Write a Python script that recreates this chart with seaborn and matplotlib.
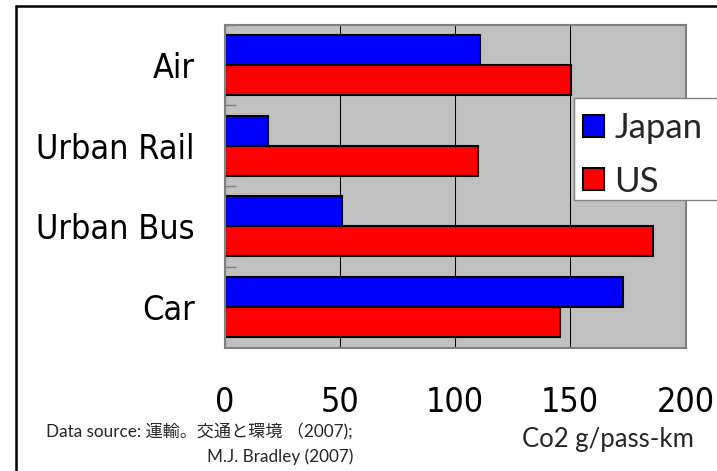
import matplotlib
matplotlib.use("Agg")
import matplotlib.pyplot as plt
import seaborn as sns
import pandas as pd
from matplotlib.lines import Line2D
from matplotlib.patches import Patch, Rectangle

# CO2 emissions per passenger-km by mode
modes = ["Air", "Urban Rail", "Urban Bus", "Car"]
countries = ["Japan", "US"]
japan = [111, 19, 51, 173]
us = [150.5, 110, 186, 145.5]
xticks = [0, 50, 100, 150, 200]
colors = {"Japan": "#0000FF", "US": "#FF0000"}

df = pd.DataFrame({
    "Mode": modes * 2,
    "Country": ["Japan"] * len(modes) + ["US"] * len(modes),
    "CO2": japan + us,
})

sns.set_theme(style="white")
plt.rcParams["font.family"] = ["DejaVu Sans"]

W, H = 717, 471
fig = plt.figure(figsize=(W / 100, H / 100), dpi=100)
ax = fig.add_axes([224.5 / W, 1 - 347.5 / H, 461 / W, 323 / H])

sns.barplot(data=df, y="Mode", x="CO2", hue="Country", order=modes,
            hue_order=countries, palette=colors, orient="h", width=0.745,
            edgecolor="black", linewidth=1.5, saturation=1, legend=False,
            ax=ax)

ax.set_facecolor("#C0C0C0")
ax.set_axisbelow(True)
ax.set_xlim(0, 200)
ax.set_ylim(3.5, -0.5)
ax.set_xticks(xticks)
ax.set_xticklabels([str(t) for t in xticks], fontsize=24.5,
                   fontstretch="condensed")
ax.set_yticks(range(len(modes)))
ax.set_yticklabels(modes, fontsize=24.5, fontstretch="condensed")
ax.xaxis.grid(True, color="black", linewidth=0.75)
ax.yaxis.grid(False)
ax.tick_params(axis="x", which="major", length=0, pad=28, colors="black")
ax.tick_params(axis="y", which="major", length=0, pad=21.6, colors="black")
ax.set_yticks([-0.5, 0.5, 1.5, 2.5], minor=True)
ax.tick_params(axis="y", which="minor", direction="in", length=8,
               width=1, color="#808080", left=True)
ax.set_xlabel("")
ax.set_ylabel("")
for sp in ax.spines.values():
    sp.set_visible(True)
    sp.set_color("#808080")
    sp.set_linewidth(1.5)

# legend box running off the right edge
fig.add_artist(Rectangle((574 / W, 1 - 199.5 / H), 160 / W, 102 / H,
                         transform=fig.transFigure, facecolor="white",
                         edgecolor="#808080", linewidth=1.0, zorder=4,
                         clip_on=False))
handles = [Patch(facecolor=colors[c], edgecolor="black", linewidth=1.5,
                 label=c) for c in countries]
leg = fig.legend(handles=handles, loc="upper left",
                 bbox_to_anchor=(568 / W, 1 - 97.5 / H),
                 bbox_transform=fig.transFigure, frameon=False,
                 prop={"family": "Lato", "size": 25},
                 handlelength=0.63, handleheight=0.6, handletextpad=0.29,
                 borderpad=0.42, labelspacing=0.62, borderaxespad=0)
leg.set_zorder(5)

fig.text(608 / W, 1 - 447 / H, "Co2 g/pass-km", ha="center", va="baseline",
         family="Lato", fontsize=18.5)
src_font = ["Lato", "Noto Sans CJK JP"]
fig.text(353 / W, 1 - 437 / H, "Data source: 運輸。交通と環境 （2007);",
         ha="right", va="baseline", family=src_font, fontsize=12.3)
fig.text(353 / W, 1 - 462 / H, "M.J. Bradley (2007)",
         ha="right", va="baseline", family=src_font, fontsize=12.3)

# outer frame
fig.add_artist(Line2D([16 / W, 16 / W], [0, 1 - 6 / H], color="black",
                      linewidth=1.8, transform=fig.transFigure))
fig.add_artist(Line2D([16 / W, 1], [1 - 6 / H, 1 - 6 / H], color="black",
                      linewidth=1.8, transform=fig.transFigure))

fig.savefig("out.png", dpi=100)
